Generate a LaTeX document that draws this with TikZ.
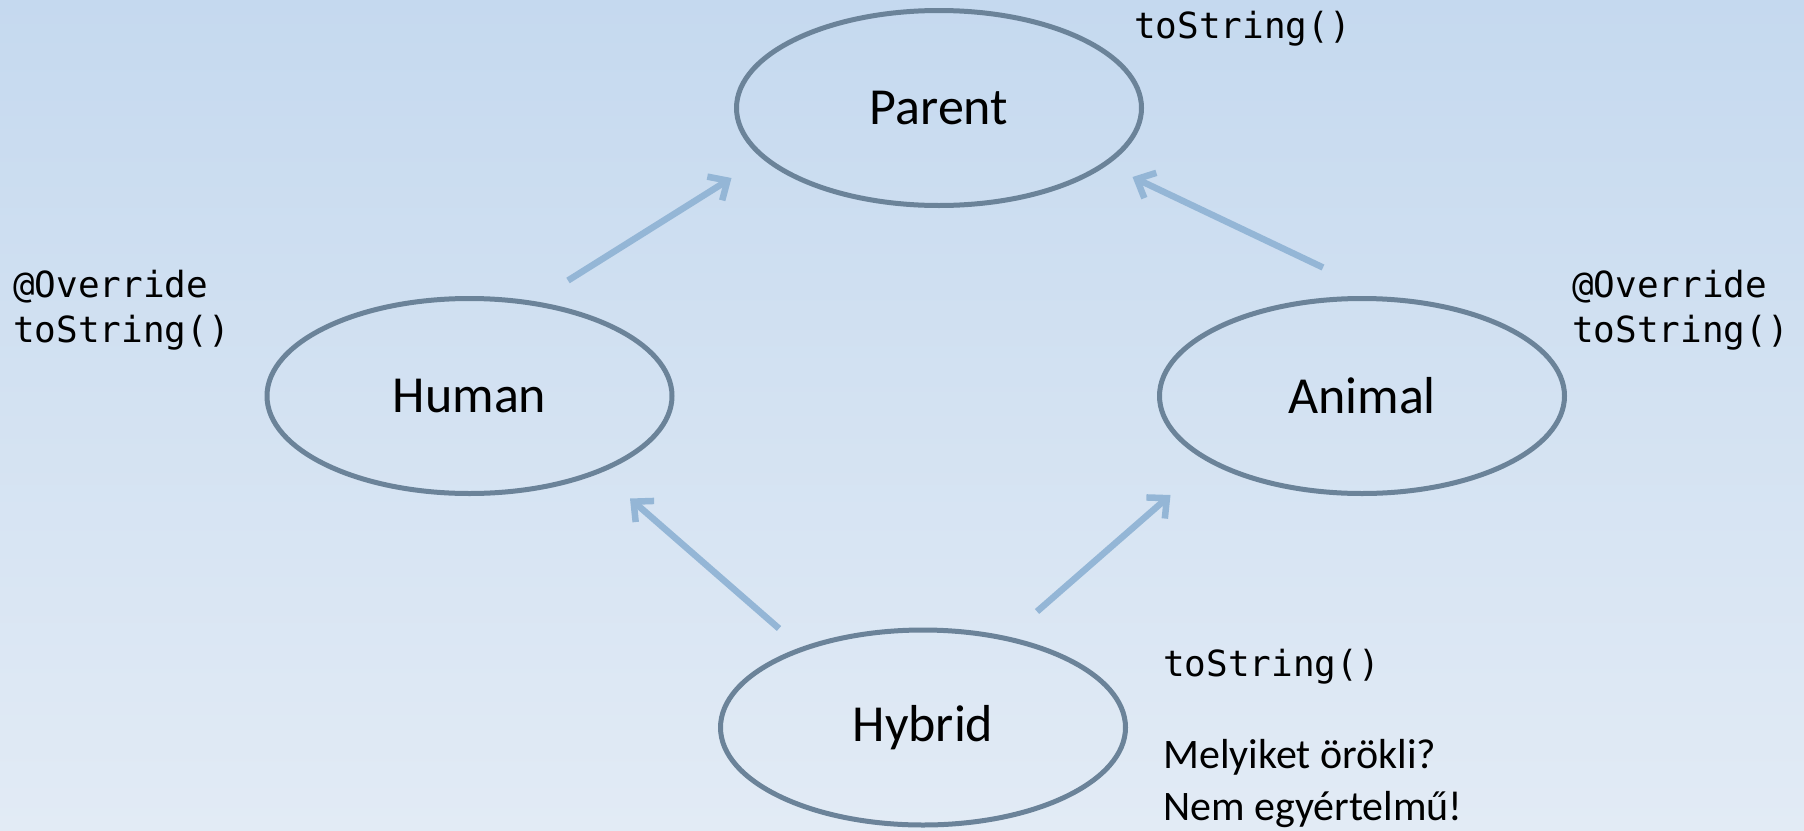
\documentclass[tikz,border=0pt]{standalone}
\usepackage{fontspec}
\setmainfont{Carlito}
\setmonofont{DejaVu Sans Mono}
\usepackage{xcolor}
\usepackage{tikz}
\usetikzlibrary{shapes.geometric}
\usetikzlibrary{positioning}
\usetikzlibrary{arrows.meta}

\definecolor{bgtop}{HTML}{C5D9EF}
\definecolor{bgbottom}{HTML}{E2EBF5}
\definecolor{classline}{HTML}{6B8399}
\definecolor{inhline}{HTML}{94B6D6}

\begin{document}
\begin{tikzpicture}[x=1pt, y=-1pt,
    class/.style = {ellipse, draw = classline, line width = 5pt,
        minimum width = 405pt, minimum height = 195pt, inner sep = 0pt,
        font = \fontsize{52}{62}\selectfont},
    inherits/.style = {draw = inhline, line width = 6.5pt,
        -{Straight Barb[length = 15pt, width = 28pt]}},
    code/.style = {anchor = base west, align = left, inner sep = 0pt,
        font = \fontsize{36}{45}\selectfont\ttfamily},
    remark/.style = {anchor = base west, align = left, inner sep = 0pt,
        font = \fontsize{42}{52}\selectfont}]
    \shade[top color = bgtop, bottom color = bgbottom] (0, 0) rectangle (1804, 830);
    \useasboundingbox (0, 0) rectangle (1804, 830);

    \node[class] (parent) at (939, 108) {Parent};
    \node[class] (human) at (469.5, 396) {Human};
    \node[class] (animal) at (1362, 396) {Animal};
    \node[class] (hybrid) at (923, 727.5) {Hybrid};

    \draw[inherits] ([shift = {(98.5, -15.5)}]human.north) -- ([shift = {(-2.5, 70)}]parent.west);
    \draw[inherits] ([shift = {(-39, -28.5)}]animal.north) -- ([shift = {(-11.5, 69)}]parent.east);
    \draw[inherits] ([shift = {(-144, 1)}]hybrid.north) -- ([shift = {(160.5, 2.5)}]human.south);
    \draw[inherits] ([shift = {(114, -16)}]hybrid.north) -- ([shift = {(13.5, 99)}]animal.west);

    % base anchor of a two line node is the last line
    \node[code] (parentcode) at (1134, 38) {toString()};
    \node[code] (humancode) at (13, 342) {@Override\\toString()};
    \node[code] (animalcode) at (1572, 342) {@Override\\toString()};
    \node[code] (hybridcode) at (1163, 676) {toString()};
    \node[remark] (question) at (1163, 820) {Melyiket örökli?\\Nem egyértelmű!};
\end{tikzpicture}
\end{document}
